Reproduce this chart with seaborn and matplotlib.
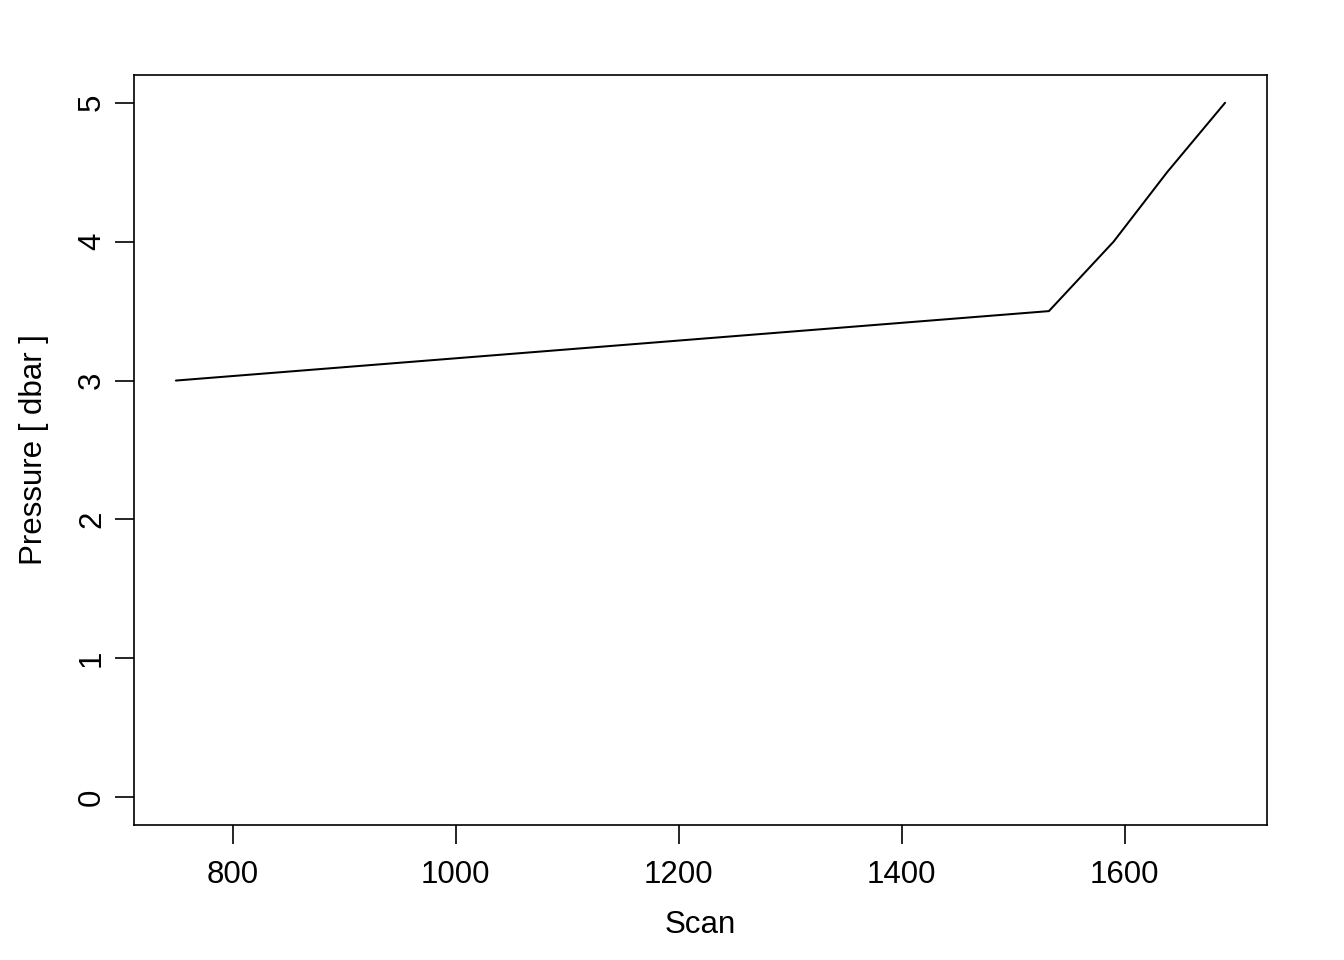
import pandas as pd
import matplotlib
matplotlib.use("Agg")
import matplotlib.pyplot as plt
import seaborn as sns

# Valores
scan = [749, 1532, 1590, 1638, 1690]
pressure = [3.0, 3.5, 4.0, 4.5, 5.0]
x_ticks = [800, 1000, 1200, 1400, 1600]
y_ticks = [0, 1, 2, 3, 4, 5]

df = pd.DataFrame({"Scan": scan, "Pressure": pressure})

sns.set_style("white")
plt.rcParams["font.family"] = ["Liberation Sans", "DejaVu Sans"]
plt.rcParams["text.color"] = "black"
plt.rcParams["axes.labelcolor"] = "black"
plt.rcParams["xtick.color"] = "black"
plt.rcParams["ytick.color"] = "black"

fig = plt.figure(figsize=(13.44, 9.6), dpi=100)
ax = fig.add_axes([134 / 1344, 1 - 825 / 960, (1267 - 134) / 1344, (825 - 75) / 960])

sns.lineplot(data=df, x="Scan", y="Pressure", color="black", linewidth=1.45, ax=ax)

ax.set_xlim(711.4, 1727.6)
ax.set_ylim(-0.2, 5.2)
ax.set_xticks(x_ticks)
ax.set_yticks(y_ticks)
ax.tick_params(axis="both", direction="out", length=13.5, width=1.2, color="black",
               labelcolor="black", labelsize=22.5, bottom=True, left=True)
ax.tick_params(axis="x", pad=12)
ax.tick_params(axis="y", pad=6)
for lab in ax.get_yticklabels():
    lab.set_rotation(90)
    lab.set_va("center")

for sp in ax.spines.values():
    sp.set_visible(True)
    sp.set_color("black")
    sp.set_linewidth(1.2)

ax.set_xlabel("Scan", fontsize=22.5, va="center", color="black")
ax.set_ylabel("Pressure [ dbar ]", fontsize=22.5, va="center", color="black")
ax.xaxis.set_label_coords(0.5, -0.133)
ax.yaxis.set_label_coords(-0.0885, 0.5)

fig.savefig("out.png", dpi=100, facecolor="white")
